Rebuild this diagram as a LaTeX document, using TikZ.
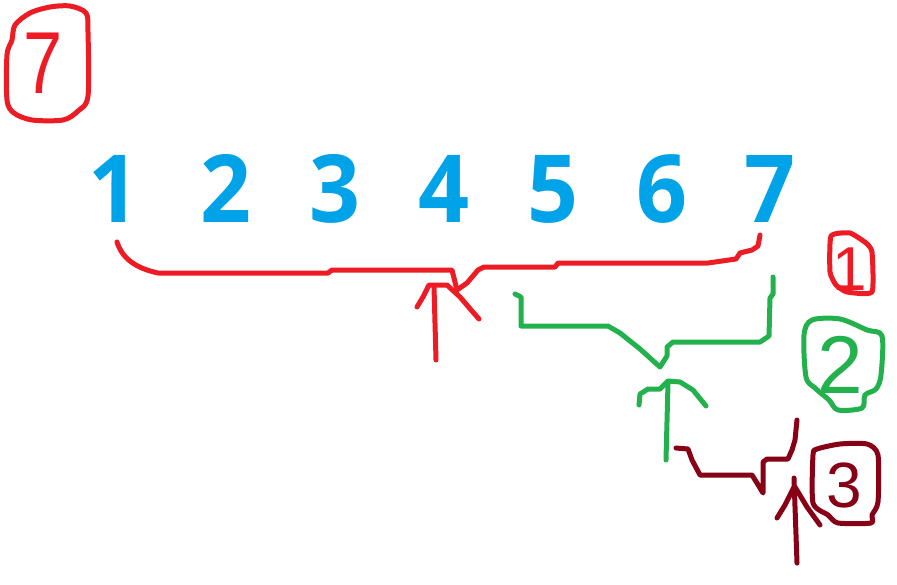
\documentclass[tikz,border=0pt]{standalone}
\usepackage{fontspec}
\setmainfont{Liberation Sans}
\newfontfamily\digitfont{Open Sans}
\definecolor{pblue}{HTML}{00A2E8}
\definecolor{pred}{HTML}{ED1C24}
\definecolor{pgreen}{HTML}{22B14C}
\definecolor{pdark}{HTML}{880015}
\begin{document}
\begin{tikzpicture}[x=1pt,y=-1pt,
  pen/.style={line width=5pt, line cap=round, line join=round},
  digit/.style={anchor=base, inner sep=0pt, text=pblue, xscale=0.95, font=\digitfont\bfseries\fontsize{94}{94}\selectfont},
  hand/.style={anchor=base, inner sep=0pt}]
\useasboundingbox (0,0) rectangle (897,584);
\fill[white] (0,0) rectangle (897,584);

% blue digits
\node[digit] (d1) at (114,222) {1};
\node[digit] (d2) at (226,222) {2};
\node[digit] (d3) at (335,222) {3};
\node[digit] (d4) at (444,222) {4};
\node[digit] (d5) at (553,222) {5};
\node[digit] (d6) at (662,222) {6};
\node[digit] (d7) at (770,222) {7};

% circled 7 (top left)
\draw[pen, pred] plot[smooth cycle, tension=0.5] coordinates {(86,13) (70,6) (50,7) (30,13) (15,25) (12,40) (7,55) (7,100) (14,113) (32,120) (63,120) (78,111) (88,96) (88,32)};
\node[hand, text=pred, font=\fontsize{88}{88}\selectfont, xscale=0.8] (c7) at (43,93) {7};

% red brace 1..7 and arrow
\draw[pen, pred] (117,242) .. controls (122,258) and (135,268) .. (158,273) -- (328,273) -- (332,270) -- (452,270) -- (457,290) -- (467,283) -- (478,270) -- (484,267) -- (555,267) -- (558,263) -- (708,263) -- (736,259) -- (740,253) -- (752,250) -- (758,246) -- (760,235);
\draw[pen, pred] (436,360) -- (434,286);
\draw[pen, pred] (417,307) -- (423,297) -- (429,285) -- (447,285) -- (460,297) -- (472,311) -- (479,319);

% red label 1
\draw[pen, pred] plot[smooth cycle, tension=0.3] coordinates {(831,236) (850,233) (866,243) (872,252) (872,292) (847,292) (836,285) (830,272)};
\node[hand, text=pred, font=\fontsize{62}{62}\selectfont] (c1) at (850,290) {1};

% green brace 5..7 and arrow
\draw[pen, pgreen] (515,294) -- (521,297) -- (521,326) -- (608,326) -- (620,333) -- (640,349) -- (660,367) -- (667,356) -- (667,347) -- (673,342) -- (760,342) -- (769,336) -- (770,298) -- (773,294) -- (773,277);
\draw[pen, pgreen] (666,460) -- (668,383);
\draw[pen, pgreen] (639,405) -- (640,394) -- (648,389) -- (660,389) -- (668,381) -- (680,382) -- (693,390) -- (706,406);

% green label 2
\draw[pen, pgreen] plot[smooth cycle, tension=0.5] coordinates {(812,320) (840,319) (867,330) (882,336) (881,375) (876,389) (865,395) (862,408) (838,410) (829,400) (815,388) (806,377) (804,335)};
\node[hand, text=pgreen, font=\fontsize{82}{82}\selectfont] (c2) at (840,393) {2};

% dark red brace 6..7 and arrow
\draw[pen, pdark] (676,448) -- (688,449) -- (692,460) -- (700,475) -- (752,475) -- (757,483) -- (763,493) -- (763,462) -- (767,459) -- (788,459) -- (792,450) -- (795,440) -- (797,420);
\draw[pen, pdark] (797,563) -- (794,478);
\draw[pen, pdark] (777,518) -- (785,505) -- (794,487);
\draw[pen, pdark] (795,487) -- (807,507) -- (820,525);

% dark red label 3
\draw[pen, pdark] plot[smooth cycle, tension=0.4] coordinates {(817,449) (840,444) (867,444) (878,455) (878,502) (872,515) (871,523) (838,523) (828,515) (813,503) (813,455)};
\node[hand, text=pdark, font=\fontsize{64}{64}\selectfont] (c3) at (844,507) {3};
\end{tikzpicture}
\end{document}
